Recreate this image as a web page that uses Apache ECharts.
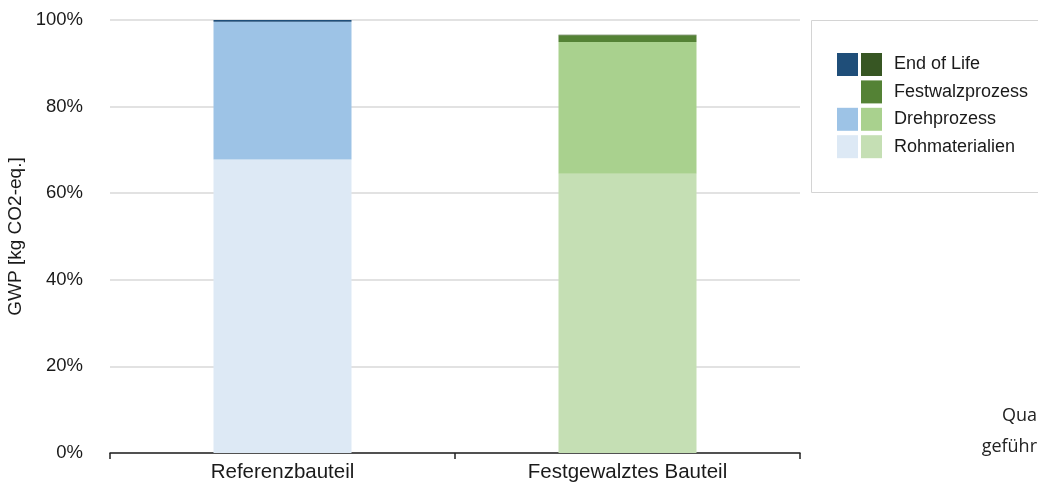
<!DOCTYPE html>
<html>
<head>
<meta charset="utf-8">
<script src="https://cdn.jsdelivr.net/npm/echarts@6/dist/echarts.min.js"></script>
<style>
  html, body { margin: 0; padding: 0; background: #fff; }
  #chart { width: 1038px; height: 488px; }
</style>
</head>
<body>
<div id="chart"></div>
<script>
// Bauteile (Kategorien) und GWP-Anteile je Lebenszyklusphase in %
const categories = ['Referenzbauteil', 'Festgewalztes Bauteil'];
const rohmaterialien = [67.8, 64.5];
const drehprozess = [31.8, 30.4];
const festwalzprozess = [0, 1.6];
const endOfLife = [0.4, 0.1];
const yTicks = [0, 20, 40, 60, 80, 100];

// Farben: Blau-Töne für das Referenzbauteil, Grün-Töne für das festgewalzte Bauteil
const phaseColors = {
  'Rohmaterialien':  ['#dde9f5', '#c5dfb4'],
  'Drehprozess':     ['#9dc3e6', '#a9d18e'],
  'Festwalzprozess': ['#ffffff', '#548235'],
  'End of Life':     ['#1f4e79', '#375623']
};

const phases = [
  { name: 'Rohmaterialien', data: rohmaterialien },
  { name: 'Drehprozess', data: drehprozess },
  { name: 'Festwalzprozess', data: festwalzprozess },
  { name: 'End of Life', data: endOfLife }
];

const textFont = '"Liberation Sans", Arial, sans-serif';

const series = phases.map(p => ({
  name: p.name,
  type: 'bar',
  stack: 'gwp',
  barWidth: '40%',
  data: p.data.map(v => (v > 0 ? v : null)),
  itemStyle: {
    color: params => phaseColors[p.name][params.dataIndex]
  },
  emphasis: { disabled: true }
}));

// Legende: je Zeile ein blaues und ein grünes Kästchen, oben beginnend mit End of Life
const legendOrder = ['End of Life', 'Festwalzprozess', 'Drehprozess', 'Rohmaterialien'];
const legendGraphics = [{
  type: 'rect',
  shape: { x: 811.5, y: 20.5, width: 240, height: 172 },
  style: { fill: '#fff', stroke: '#d4d4d4', lineWidth: 1 }
}];
legendOrder.forEach((name, i) => {
  const y = 53 + i * 27.4;
  const [blue, green] = phaseColors[name];
  if (name !== 'Festwalzprozess') {
    legendGraphics.push({
      type: 'rect',
      shape: { x: 837, y: y, width: 21, height: 23 },
      style: { fill: blue }
    });
  }
  legendGraphics.push({
    type: 'rect',
    shape: { x: 861, y: y, width: 21, height: 23 },
    style: { fill: green }
  });
  legendGraphics.push({
    type: 'text',
    x: 894,
    y: y + 11.5,
    style: {
      text: name,
      font: '18px ' + textFont,
      fill: '#1a1a1a',
      verticalAlign: 'middle'
    }
  });
});

// Angeschnittener Fließtext am rechten Rand
legendGraphics.push({
  type: 'text', x: 1037, y: 416,
  style: { text: 'Qua', font: '18px "Open Sans", sans-serif', fill: '#222', align: 'right', verticalAlign: 'middle' }
});
legendGraphics.push({
  type: 'text', x: 1037, y: 447,
  style: { text: 'geführ', font: '18px "Open Sans", sans-serif', fill: '#222', align: 'right', verticalAlign: 'middle' }
});

const chart = echarts.init(document.getElementById('chart'), null, { renderer: 'canvas' });
chart.setOption({
  animation: false,
  backgroundColor: '#ffffff',
  grid: { left: 110, right: 238, top: 20, bottom: 35, containLabel: false, outerBoundsMode: 'none' },
  xAxis: {
    type: 'category',
    data: categories,
    axisLine: { lineStyle: { color: '#222', width: 1.5 } },
    axisTick: { show: true, length: 6, alignWithLabel: false, lineStyle: { color: '#222', width: 1.5 } },
    axisLabel: { fontSize: 20.5, fontFamily: textFont, color: '#1a1a1a', margin: 9 }
  },
  yAxis: {
    type: 'value',
    min: yTicks[0],
    max: yTicks[yTicks.length - 1],
    interval: 20,
    name: 'GWP [kg CO2-eq.]',
    nameLocation: 'middle',
    nameGap: 81,
    nameRotate: 90,
    nameTextStyle: { fontSize: 19, fontFamily: textFont, color: '#1a1a1a' },
    axisLine: { show: false },
    axisTick: { show: false },
    axisLabel: { formatter: '{value}%', fontSize: 18.5, fontFamily: textFont, color: '#1a1a1a', margin: 27 },
    splitLine: { lineStyle: { color: '#d9d9d9', width: 1.5 } }
  },
  series: series,
  graphic: legendGraphics
});
</script>
</body>
</html>
